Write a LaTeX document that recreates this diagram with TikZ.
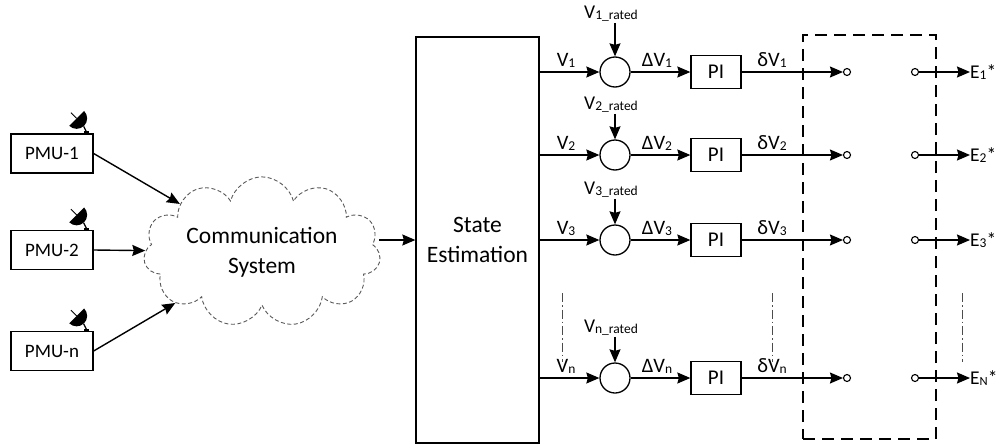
\documentclass[tikz,border=0pt]{standalone}
\usepackage{fontspec}
\setmainfont{Carlito}
\usetikzlibrary{arrows.meta,shapes.symbols,calc}
\newcommand\sbs[1]{\raisebox{-1pt}{\fontsize{13.5}{13.5}\selectfont #1}}
\newcommand\dishon[1]{%
  \begin{scope}[shift={(#1.north east)}]
    \fill[black] ($(-17,15)+(45:10.5)$) arc[start angle=45,end angle=-135,radius=10.5] -- cycle;
    \draw[line width=0.8pt] (-17,15) -- ++(135:8);
    \draw[line width=1.2pt] (-10,7) -- (-7,1);
    \fill[black] (-9.5,0) rectangle (-4.5,2.2);
  \end{scope}}
\begin{document}
\begin{tikzpicture}[x=1pt,y=1pt,
  arr/.style={-{Stealth[length=13pt,width=11pt,inset=1.5pt]}, line width=1.4pt},
  blk/.style={draw, line width=1.3pt, inner sep=0pt},
  pmu/.style={blk, minimum width=82pt, minimum height=39pt, font=\fontsize{19}{19}\selectfont},
  big/.style={font=\fontsize{23.5}{30}\selectfont, align=center},
  lbl/.style={font=\fontsize{20.5}{20.5}\selectfont, inner sep=0pt, anchor=base},
  rated/.style={font=\fontsize{19.5}{19.5}\selectfont, inner sep=1pt},
  sum/.style={draw, circle, line width=1.3pt, minimum size=30pt, inner sep=0pt},
  pib/.style={blk, minimum width=50pt, minimum height=33pt, font=\fontsize{21}{21}\selectfont},
  sw/.style={draw, circle, line width=1.1pt, minimum size=7pt, inner sep=0pt},
  elbl/.style={font=\fontsize{19.5}{19.5}\selectfont, inner sep=0pt, anchor=west},
  dd/.style={draw=black!70, line width=0.9pt, dash pattern=on 9pt off 3pt on 1.5pt off 3pt}]
\useasboundingbox (0,0) rectangle (1001,-447);

% PMUs
\node[pmu] (p1) at (52,-153.5) {PMU-1};
\node[pmu] (p2) at (52,-250) {PMU-2};
\node[pmu] (p3) at (52,-351) {PMU-n};
\dishon{p1}
\dishon{p2}
\dishon{p3}

% cloud
\node[cloud, cloud puffs=11, aspect=2.1, draw=black!65, line width=0.9pt,
      dash pattern=on 4pt off 2.5pt, minimum width=220pt, minimum height=104pt,
      big] (cl) at (262,-252) {Communication\\System};

\draw[arr] (p1.east) -- (cl);
\draw[arr] (p2.east) -- (cl);
\draw[arr] (p3.east) -- (cl);

% state estimation
\node[blk, minimum width=123pt, minimum height=406pt, big] (se) at (477.5,-240) {State\\Estimation};
\draw[arr] (cl.east |- se.west) -- (se.west);

% dashed switch box
\node[draw, line width=1.5pt, dash pattern=on 12pt off 7pt, minimum width=133pt,
      minimum height=404pt, inner sep=0pt] (swb) at (869.5,-237) {};

% rows
\foreach \i/\y/\ry/\n/\en in {1/72/58/1/\sbs{1}, 2/155/50/2/\sbs{2}, 3/240/50/3/\sbs{3}, 4/378/50/n/\sbs{\fontsize{12.5}{12.5}\selectfont N}}{
  \node[sum] (c\i) at (615,-\y) {};
  \node[pib] (pi\i) at (716,-\y) {PI};
  \node[sw] (s\i) at (847,-\y) {};
  \node[sw] (t\i) at (915,-\y) {};
  \node[elbl] (e\i) at (970,-\y) {E\en*};
  \node[rated] (r\i) at (611,-\y+\ry) {V\sbs{\n\_rated}};
  \draw[arr] (se.east |- c\i.west) -- (c\i.west);
  \draw[arr] (r\i.south -| c\i.north) -- (c\i.north);
  \draw[arr] (c\i.east) -- (pi\i.west);
  \draw[arr] (pi\i.east) -- (s\i.west);
  \draw[arr] (t\i.east) -- (e\i.west);
  \node[lbl] (v\i) at (566,-\y+6) {V\sbs{\n}};
  \node[lbl] (dv\i) at (657,-\y+6) {ΔV\sbs{\n}};
  \node[lbl] (sv\i) at (772,-\y+6) {δV\sbs{\n}};
}

% ellipsis dash-dot lines
\draw[dd] (562,-293) -- (562,-362);
\draw[dd] (772,-293) -- (772,-362);
\draw[dd] (962,-293) -- (962,-362);
\end{tikzpicture}
\end{document}
